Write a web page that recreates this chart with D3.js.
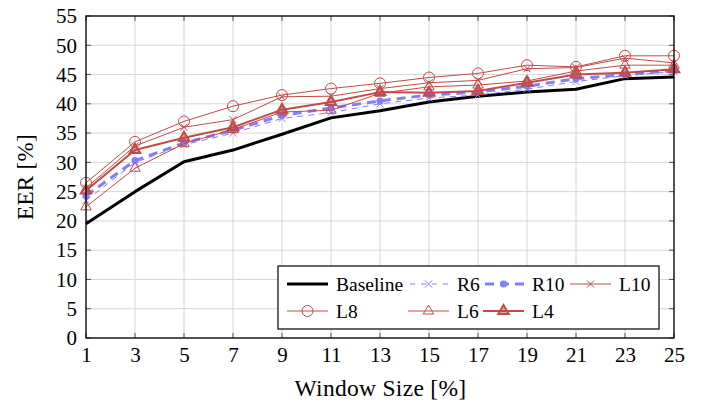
<!DOCTYPE html>
<html lang="en">
<head>
<meta charset="UTF-8">
<title>EER vs Window Size</title>
<script src="https://d3js.org/d3.v7.min.js"></script>
<style>
  body { margin: 0; background: #fff; }
  svg text { font-family: "Liberation Serif", "DejaVu Serif", serif; fill: #000; }
</style>
</head>
<body>
<svg width="708" height="407"></svg>
<script>
  const windowSizes = [1, 3, 5, 7, 9, 11, 13, 15, 17, 19, 21, 23, 25]
  const yTicks = [0, 5, 10, 15, 20, 25, 30, 35, 40, 45, 50, 55]

  const baseline = [19.5, 25, 30.1, 32.1, 34.8, 37.6, 38.8, 40.3, 41.3, 42.0, 42.5, 44.3, 44.6]
  const r6 = [23.5, 30, 33, 35, 37.5, 38.5, 40, 41, 41.5, 42.5, 43.8, 44.8, 45.5]
  const r10 = [24.3, 30.3, 33.3, 35.5, 38, 39.3, 40.5, 41.5, 42, 43, 44.3, 45, 45.7]
  const l10 = [25.6, 32.8, 36, 37.3, 41.2, 41.3, 42.6, 43.6, 44, 46, 46.2, 47.8, 47]
  const l8 = [26.5, 33.5, 37, 39.6, 41.5, 42.6, 43.5, 44.5, 45.2, 46.6, 46.3, 48.2, 48.2]
  const l6 = [22.4, 29, 33.2, 35.6, 38.6, 38.9, 41.8, 42.9, 43.2, 43.9, 45.6, 46.6, 46.6]
  const l4 = [25.2, 32.1, 34.2, 36, 39, 40.3, 42, 41.9, 42.2, 43.6, 45, 45.3, 45.9]

  const blue = "#7f7fff"
  const red = "#c24a4a"

  const series = [
    { name: "Baseline", values: baseline, color: "#000", width: 3, dash: null, marker: null },
    { name: "R6", values: r6, color: blue, width: 1, dash: "6,5", marker: "x" },
    { name: "R10", values: r10, color: blue, width: 3, dash: "9,6", marker: "dot" },
    { name: "L10", values: l10, color: red, width: 1, dash: null, marker: "x" },
    { name: "L8", values: l8, color: red, width: 1, dash: null, marker: "circle" },
    { name: "L6", values: l6, color: red, width: 1, dash: null, marker: "tri" },
    { name: "L4", values: l4, color: red, width: 2, dash: null, marker: "tri" }
  ]

  const pLeft = 86, pRight = 674, pTop = 16, pBottom = 338
  const svg = d3.select("svg")

  const x = d3.scaleLinear().domain([1, 25]).range([pLeft, pRight])
  const y = d3.scaleLinear().domain([0, 55]).range([pBottom, pTop])

  // grid
  const grid = svg.append("g").attr("stroke", "#d6d6d6").attr("stroke-width", 1)
  grid.selectAll(".gx").data(windowSizes).join("line").attr("class", "gx")
    .attr("x1", d => x(d)).attr("x2", d => x(d)).attr("y1", pTop).attr("y2", pBottom)
  grid.selectAll(".gy").data(yTicks).join("line").attr("class", "gy")
    .attr("y1", d => y(d)).attr("y2", d => y(d)).attr("x1", pLeft).attr("x2", pRight)

  // ticks on all sides, inward
  const tk = svg.append("g").attr("stroke", "#555").attr("stroke-width", 1)
  tk.selectAll(".tb").data(windowSizes).join("line").attr("class", "tb")
    .attr("x1", d => x(d)).attr("x2", d => x(d)).attr("y1", pBottom).attr("y2", pBottom - 5)
  tk.selectAll(".tt").data(windowSizes).join("line").attr("class", "tt")
    .attr("x1", d => x(d)).attr("x2", d => x(d)).attr("y1", pTop).attr("y2", pTop + 5)
  tk.selectAll(".tl").data(yTicks).join("line").attr("class", "tl")
    .attr("y1", d => y(d)).attr("y2", d => y(d)).attr("x1", pLeft).attr("x2", pLeft + 5)
  tk.selectAll(".tr").data(yTicks).join("line").attr("class", "tr")
    .attr("y1", d => y(d)).attr("y2", d => y(d)).attr("x1", pRight).attr("x2", pRight - 5)

  // tick labels via axes, hiding their lines
  const xAxis = svg.append("g").attr("transform", `translate(0,${pBottom})`)
    .call(d3.axisBottom(x).tickValues(windowSizes).tickSize(0).tickPadding(9))
  const yAxis = svg.append("g").attr("transform", `translate(${pLeft},0)`)
    .call(d3.axisLeft(y).tickValues(yTicks).tickSize(0).tickPadding(9))
  for (const ax of [xAxis, yAxis]) {
    ax.select(".domain").remove()
    ax.selectAll("text").style("font-family", '"Liberation Serif", serif').style("font-size", "21px")
  }

  // lines
  const line = d3.line().x((d, i) => x(windowSizes[i])).y(d => y(d))
  const plot = svg.append("g")

  function drawMarker(g, type, cx, cy, color, lw) {
    if (type === "circle") {
      g.append("circle").attr("cx", cx).attr("cy", cy).attr("r", 5.5)
        .attr("fill", "none").attr("stroke", color).attr("stroke-width", 1)
    } else if (type === "x") {
      const s = 3.5
      g.append("path").attr("d", `M${cx - s},${cy - s}L${cx + s},${cy + s}M${cx - s},${cy + s}L${cx + s},${cy - s}`)
        .attr("stroke", color).attr("stroke-width", 1).attr("fill", "none")
    } else if (type === "dot") {
      g.append("circle").attr("cx", cx).attr("cy", cy).attr("r", 3.5).attr("fill", color)
    } else if (type === "tri") {
      const r = 6
      const p = [[cx, cy - r], [cx - r * 0.87, cy + r * 0.5], [cx + r * 0.87, cy + r * 0.5]]
      g.append("path").attr("d", "M" + p.join("L") + "Z")
        .attr("fill", lw > 1 ? color : "none").attr("fill-opacity", lw > 1 ? 0.45 : 1)
        .attr("stroke", color).attr("stroke-width", lw)
    }
  }

  series.forEach(s => {
    plot.append("path").datum(s.values)
      .attr("d", line)
      .attr("fill", "none")
      .attr("stroke", s.color)
      .attr("stroke-width", s.width)
      .attr("stroke-dasharray", s.dash)
      .attr("stroke-linejoin", "round")
    if (s.marker) {
      const mg = plot.append("g")
      s.values.forEach((v, i) => drawMarker(mg, s.marker, x(windowSizes[i]), y(v), s.color, s.width))
    }
  })

  // frame
  svg.append("rect").attr("x", pLeft).attr("y", pTop).attr("width", pRight - pLeft).attr("height", pBottom - pTop)
    .attr("fill", "none").attr("stroke", "#000").attr("stroke-width", 1.3)

  // axis titles
  svg.append("text").attr("x", (pLeft + pRight) / 2 + 0.5).attr("y", 396).attr("text-anchor", "middle")
    .style("font-size", "23.5px").style("letter-spacing", "0.3px").text("Window Size [%]")
  svg.append("text").attr("transform", `translate(33,${(pTop + pBottom) / 2}) rotate(-90)`)
    .attr("text-anchor", "middle").style("font-size", "23px").style("letter-spacing", "0.3px").text("EER [%]")

  // legend
  const lg = svg.append("g")
  lg.append("rect").attr("x", 278).attr("y", 266).attr("width", 381).attr("height", 63)
    .attr("fill", "#fff").attr("stroke", "#000").attr("stroke-width", 1.2)
  const legendPos = [
    [287, 284], [408, 284], [483, 284], [570, 284],
    [287, 311], [408, 311], [483, 311]
  ]
  series.forEach((s, i) => {
    const [lx, ly] = legendPos[i]
    const g = lg.append("g")
    g.append("line").attr("x1", lx).attr("x2", lx + 41).attr("y1", ly).attr("y2", ly)
      .attr("stroke", s.color).attr("stroke-width", s.width)
      .attr("stroke-dasharray", s.dash ? (s.width > 1 ? "9,6" : "5,6") : null)
      .attr("stroke-dashoffset", s.dash ? -2 : null)
    if (s.marker) drawMarker(g, s.marker, lx + 20.5, ly, s.color, s.width)
    g.append("text").attr("x", lx + 49).attr("y", ly).attr("dy", "0.35em")
      .style("font-size", "19.5px").text(s.name)
  })
</script>
</body>
</html>
